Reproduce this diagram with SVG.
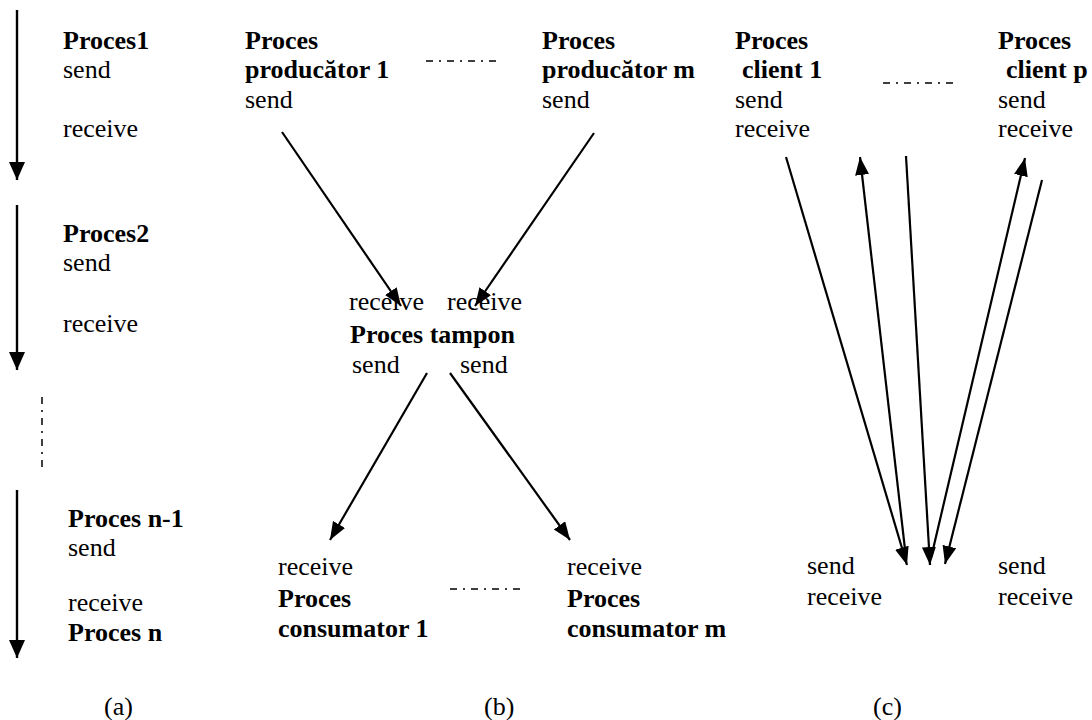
<svg xmlns="http://www.w3.org/2000/svg" width="1092" height="720" viewBox="0 0 1092 720">
  <style>
    text { font-family: "Liberation Serif", "Times New Roman", "DejaVu Serif", serif; font-size: 26px; fill: #000; }
    .b { font-weight: bold; }
    .edge { stroke: #000; stroke-width: 2.2; fill: none; marker-end: url(#head); }
    .time { stroke: #000; stroke-width: 2.4; fill: none; marker-end: url(#headBig); }
    .dots { stroke: #000; stroke-width: 1.5; fill: none; stroke-dasharray: 7 6 2 6; }
  </style>
  <defs>
    <marker id="head" markerUnits="userSpaceOnUse" markerWidth="19" markerHeight="15" refX="18" refY="7" orient="auto">
      <path d="M0,0 L18,7 L0,14 z" fill="#000"/>
    </marker>
    <marker id="headBig" markerUnits="userSpaceOnUse" markerWidth="19" markerHeight="17" refX="18" refY="8" orient="auto">
      <path d="M0,0 L18,8 L0,16 z" fill="#000"/>
    </marker>
  </defs>

  <rect width="1092" height="720" fill="#fff"/>

  <!-- (a) sequential chain of processes -->
  <g id="chain-timeline">
    <line class="time" x1="17" y1="10" x2="17" y2="180"/>
    <line class="time" x1="17" y1="205" x2="17" y2="370"/>
    <line class="dots" x1="42" y1="397" x2="42" y2="469"/>
    <line class="time" x1="17" y1="490" x2="17" y2="658"/>
  </g>
  <g id="proces1">
    <text class="b" x="63" y="49">Proces1</text>
    <text x="63" y="78">send</text>
    <text x="63" y="137">receive</text>
  </g>
  <g id="proces2">
    <text class="b" x="63" y="242">Proces2</text>
    <text x="63" y="271">send</text>
    <text x="63" y="332">receive</text>
  </g>
  <g id="proces-n-1">
    <text class="b" x="68" y="527">Proces n-1</text>
    <text x="68" y="556">send</text>
    <text x="68" y="611">receive</text>
    <text class="b" x="68" y="641">Proces n</text>
  </g>

  <!-- (b) producers, buffer, consumers -->
  <g id="producator-1">
    <text class="b" x="245" y="49">Proces</text>
    <text class="b" x="245" y="78">producător 1</text>
    <text x="245" y="108">send</text>
  </g>
  <g id="producator-m">
    <text class="b" x="542" y="49">Proces</text>
    <text class="b" x="542" y="78">producător m</text>
    <text x="542" y="108">send</text>
  </g>
  <line class="dots" x1="426" y1="61" x2="500" y2="61"/>
  <g id="tampon">
    <text x="349" y="310">receive</text>
    <text x="447" y="310">receive</text>
    <text class="b" x="350" y="343">Proces tampon</text>
    <text x="352" y="373">send</text>
    <text x="460" y="373">send</text>
  </g>
  <g id="consumator-1">
    <text x="278" y="575">receive</text>
    <text class="b" x="278" y="607">Proces</text>
    <text class="b" x="278" y="637">consumator 1</text>
  </g>
  <g id="consumator-m">
    <text x="567" y="575">receive</text>
    <text class="b" x="567" y="607">Proces</text>
    <text class="b" x="567" y="637">consumator m</text>
  </g>
  <line class="dots" x1="450" y1="589" x2="524" y2="589"/>

  <!-- (c) clients and server -->
  <g id="client-1">
    <text class="b" x="735" y="49">Proces</text>
    <text class="b" x="742" y="78">client 1</text>
    <text x="735" y="108">send</text>
    <text x="735" y="137">receive</text>
  </g>
  <g id="client-p">
    <text class="b" x="998" y="49">Proces</text>
    <text class="b" x="1006" y="78">client p</text>
    <text x="998" y="108">send</text>
    <text x="998" y="137">receive</text>
  </g>
  <line class="dots" x1="883" y1="83" x2="956" y2="83"/>
  <g id="server">
    <text x="807" y="574">send</text>
    <text x="807" y="605">receive</text>
    <text x="998" y="574">send</text>
    <text x="998" y="605">receive</text>
  </g>

  <g id="connectors">
    <line class="edge" x1="282" y1="132" x2="401" y2="306"/>
    <line class="edge" x1="594" y1="133" x2="475" y2="306"/>
    <line class="edge" x1="427" y1="373" x2="330" y2="540"/>
    <line class="edge" x1="450" y1="373" x2="570" y2="540"/>
    <line class="edge" x1="786" y1="157" x2="907" y2="565"/>
    <line class="edge" x1="906" y1="558" x2="860" y2="157"/>
    <line class="edge" x1="906" y1="156" x2="930" y2="565"/>
    <line class="edge" x1="931" y1="558" x2="1025" y2="158"/>
    <line class="edge" x1="1042" y1="180" x2="945" y2="564"/>
  </g>

  <g id="captions">
    <text x="104" y="715">(a)</text>
    <text x="484" y="715">(b)</text>
    <text x="873" y="715">(c)</text>
  </g>
</svg>
